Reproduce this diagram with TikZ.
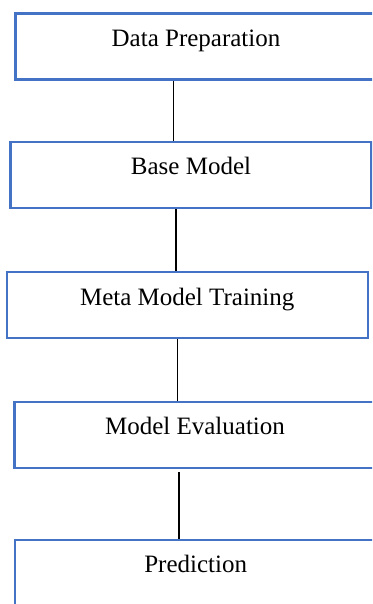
\documentclass[tikz,border=0pt]{standalone}
\usepackage{fontspec}
\setmainfont{Liberation Serif}
\usepackage{tikz}
\definecolor{boxblue}{HTML}{4472C4}

\begin{document}
\begin{tikzpicture}[x=1pt,y=-1pt,
  stage/.style={draw=boxblue,line width=2.4pt,fill=white,minimum width=361pt,minimum height=66pt,
    text height=10pt,text depth=10pt,inner sep=0pt,font=\fontsize{25}{30}\selectfont},
  link/.style={line width=1.1pt}]
\useasboundingbox (0,0) rectangle (372,604);
\clip (0,0) rectangle (372,604);
\fill[white] (0,0) rectangle (372,604);

\node[stage] (prep) at (196,46.7) {Data Preparation};
\node[stage] (base) at (191,175) {Base Model};
\node[stage] (meta) at (187.2,305) {Meta Model Training};
\node[stage] (eval) at (195,434.8) {Model Evaluation};
\node[stage] (pred) at (195.7,572.8) {Prediction};

\draw[link] ([xshift=-22.7pt]prep.south) -- ([xshift=-17.7pt]base.north);
\draw[link] ([xshift=-15pt]base.south) -- ([xshift=-11.2pt]meta.north);
\draw[link] ([xshift=-9.5pt]meta.south) -- ([xshift=-17.3pt]eval.north);
\draw[link,shorten <=3pt] ([xshift=-16pt]eval.south) -- ([xshift=-16.7pt]pred.north);
\end{tikzpicture}
\end{document}
